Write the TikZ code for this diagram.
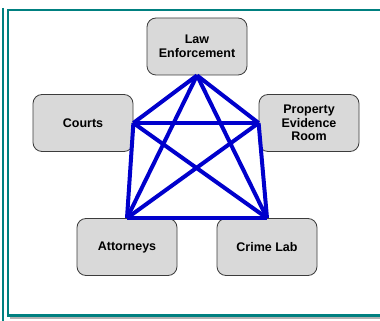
\documentclass[tikz,border=0pt]{standalone}
\usepackage{fontspec}
\setmainfont{Liberation Sans}
\definecolor{frameteal}{RGB}{0,128,128}
\definecolor{linkblue}{RGB}{0,0,204}
\definecolor{boxfill}{RGB}{217,217,217}
\definecolor{boxdraw}{RGB}{60,60,60}
\begin{document}
\begin{tikzpicture}[x=1pt,y=1pt,
  agency/.style={draw=boxdraw, line width=0.8pt, fill=boxfill, rounded corners=9pt,
    minimum width=100pt, minimum height=57pt, align=center, inner sep=2pt,
    font=\fontsize{12.5}{13.5}\selectfont\bfseries},
  link/.style={draw=linkblue, line width=4pt},
  frame/.style={draw=frameteal, line width=2.5pt}]
\useasboundingbox (0,0) rectangle (380,321);
\fill[white] (0,0) rectangle (380,321);
% frame
\draw[gray!60, line width=2pt] (10,2.5) -- (382,2.5);
\draw[frame] (8,5.5) rectangle (384,311);
\draw[frame] (3,313) -- (3,0);
% nodes
\node[agency] (law) at (197,274.5) {Law\\Enforcement};
\node[agency] (courts) at (83,198) {Courts};
\node[agency] (prop) at (309,198) {Property\\Evidence\\Room};
\node[agency] (att) at (127,74) {Attorneys};
\node[agency] (lab) at (267,74) {Crime Lab};
% links
\draw[link] (law.south) -- (courts.east);
\draw[link] (law.south) -- (prop.west);
\draw[link] (law.south) -- (att.north);
\draw[link] (law.south) -- (lab.north);
\draw[link] (courts.east) -- (prop.west);
\draw[link] (courts.east) -- (att.north);
\draw[link] (courts.east) -- (lab.north);
\draw[link] (prop.west) -- (att.north);
\draw[link] (prop.west) -- (lab.north);
\draw[link] (att.north) -- (lab.north);
\end{tikzpicture}
\end{document}
